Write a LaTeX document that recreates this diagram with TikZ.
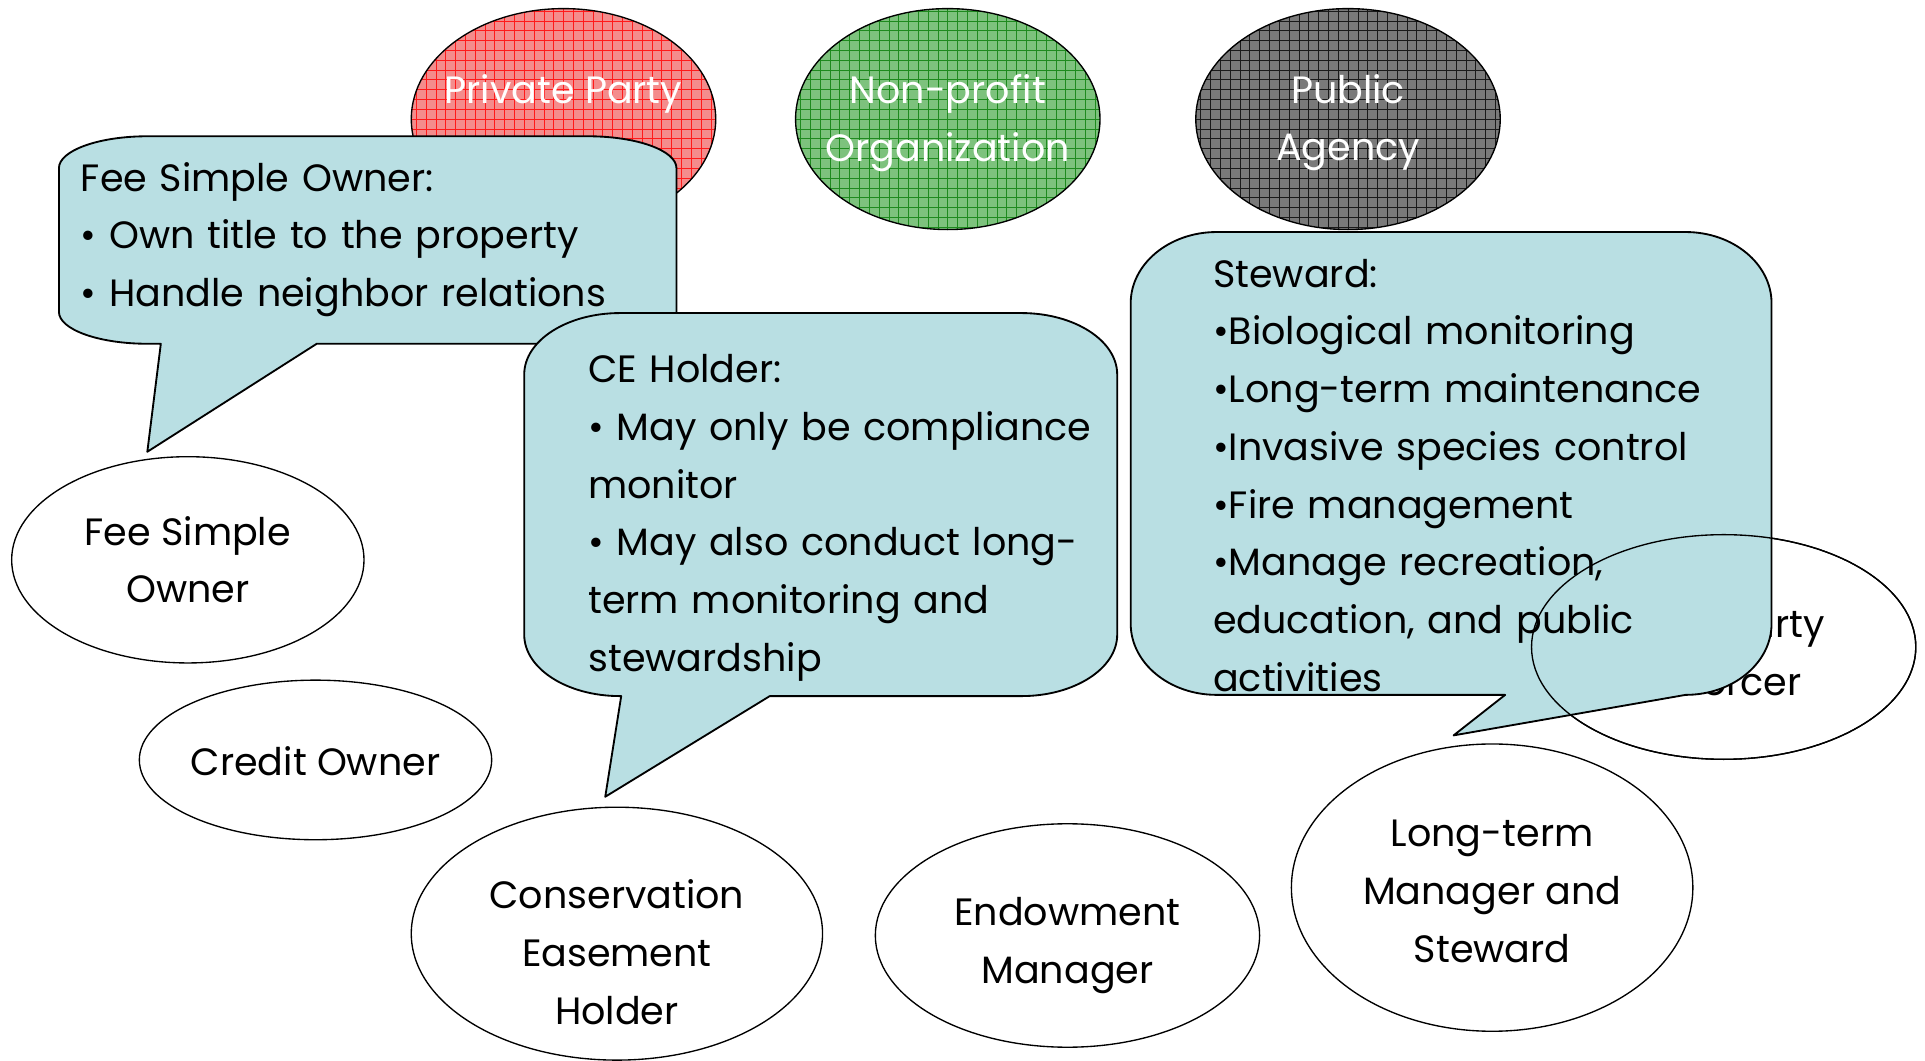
\documentclass[tikz,border=0pt]{standalone}
\usepackage{fontspec}
\setmainfont{Poppins}
\usetikzlibrary{shapes.geometric}
\definecolor{calloutfill}{HTML}{B9DFE3}
\definecolor{redbase}{HTML}{F48C8C}
\definecolor{redline}{HTML}{FF1A1A}
\definecolor{greenbase}{HTML}{7DC27D}
\definecolor{greenline}{HTML}{1E8A1E}
\definecolor{graybase}{HTML}{7A7A7A}
\definecolor{grayline}{HTML}{1A1A1A}
\tikzset{
  txt/.style={font=\fontsize{31}{47}\selectfont},
  ovaltext/.style={txt, align=center, inner sep=0pt},
  oval/.style={ellipse, draw=black, line width=1.1pt, fill=white, inner sep=0pt},
  topoval/.style 2 args={ellipse, draw=black, line width=1.1pt, fill=#1, inner sep=0pt,
    minimum width=248pt, minimum height=180pt,
    path picture={\draw[#2, line width=0.5pt] (path picture bounding box.south west) grid[step=8pt] (path picture bounding box.north east);}},
  bubble/.style={fill=calloutfill, draw=black, line width=1.5pt, line join=round},
  bubbletext/.style={txt, anchor=base west, inner sep=0pt, text width=#1, align=left},
}
\newcommand\mycallout[9]{%
 \path[bubble] (#1,{#2+#6}) .. controls (#1,{#2+0.448*#6}) and ({#1+0.448*#5},#2) .. ({#1+#5},#2)
 -- ({#3-#5},#2) .. controls ({#3-0.448*#5},#2) and (#3,{#2+0.448*#6}) .. (#3,{#2+#6})
 -- (#3,{#4-#6}) .. controls (#3,{#4-0.448*#6}) and ({#3-0.448*#5},#4) .. ({#3-#5},#4)
 -- (#8,#4) -- #9 -- (#7,#4) -- ({#1+#5},#4) .. controls ({#1+0.448*#5},#4) and (#1,{#4-0.448*#6}) .. (#1,{#4-#6}) -- cycle;}
\begin{document}
\begin{tikzpicture}[x=1pt,y=-1pt]
\useasboundingbox[fill=white] (0,0) rectangle (1568,864);

% top category ovals
\node[topoval={redbase}{redline},
  label={[ovaltext, text=white, yshift=20.5pt]center:Private Party}] (pp) at (459,97) {};
\node[topoval={greenbase}{greenline},
  label={[ovaltext, text=white, yshift=-3pt]center:Non-profit\\Organization}] (np) at (772,97) {};
\node[topoval={graybase}{grayline},
  label={[ovaltext, text=white, yshift=-3pt]center:Public\\Agency}] (pa) at (1098,97) {};

% role ovals
\node[oval, minimum width=287pt, minimum height=168pt,
  label={[ovaltext]center:Fee Simple\\Owner}] (fso) at (153,456) {};
\node[oval, minimum width=287pt, minimum height=130pt,
  label={[ovaltext, yshift=-1pt]center:Credit Owner}] (co) at (257,619) {};
\node[oval, minimum width=335pt, minimum height=206pt,
  label={[ovaltext, yshift=-15pt]center:Conservation\\Easement\\Holder}] (ceh) at (502.5,760.5) {};
\node[oval, minimum width=313pt, minimum height=182pt,
  label={[ovaltext, yshift=-8pt]center:Endowment\\Manager}] (em) at (869.5,762) {};
\node[oval, minimum width=327pt, minimum height=234pt,
  label={[ovaltext, yshift=-3pt]center:Long-term\\Manager and\\Steward}] (lt) at (1215.4,723) {};
\node[oval, minimum width=313pt, minimum height=183pt,
  label={[ovaltext, yshift=-4pt]center:Third Party\\Enforcer}] (tpe) at (1404,527) {};

% callouts
\mycallout{48}{111}{551}{280}{72}{26}{131}{258}{(120,368)}
\node[bubbletext=480pt] (feetext) at (65.7,155.6)
  {Fee Simple Owner:\\• Own title to the property\\• Handle neighbor relations};

\mycallout{427}{255}{910}{567}{78}{50}{506}{627}{(493,649)}
\node[bubbletext=425pt] (cetext) at (479,311.7)
  {CE Holder:\\• May only be compliance\\monitor\\• May also conduct long-\\term monitoring and\\stewardship};

\mycallout{921}{189}{1443}{566}{70}{58}{1226}{1373}{(1184,599)}
\node[bubbletext=450pt] (sttext) at (988,234)
  {Steward:\\•Biological monitoring\\•Long-term maintenance\\•Invasive species control\\•Fire management\\•Manage recreation,\\education, and public\\activities};

% outline of the third-party oval lies above the steward callout
\draw[line width=1.1pt] (tpe.center) ellipse [x radius=156.5pt, y radius=91.5pt];
\end{tikzpicture}
\end{document}
